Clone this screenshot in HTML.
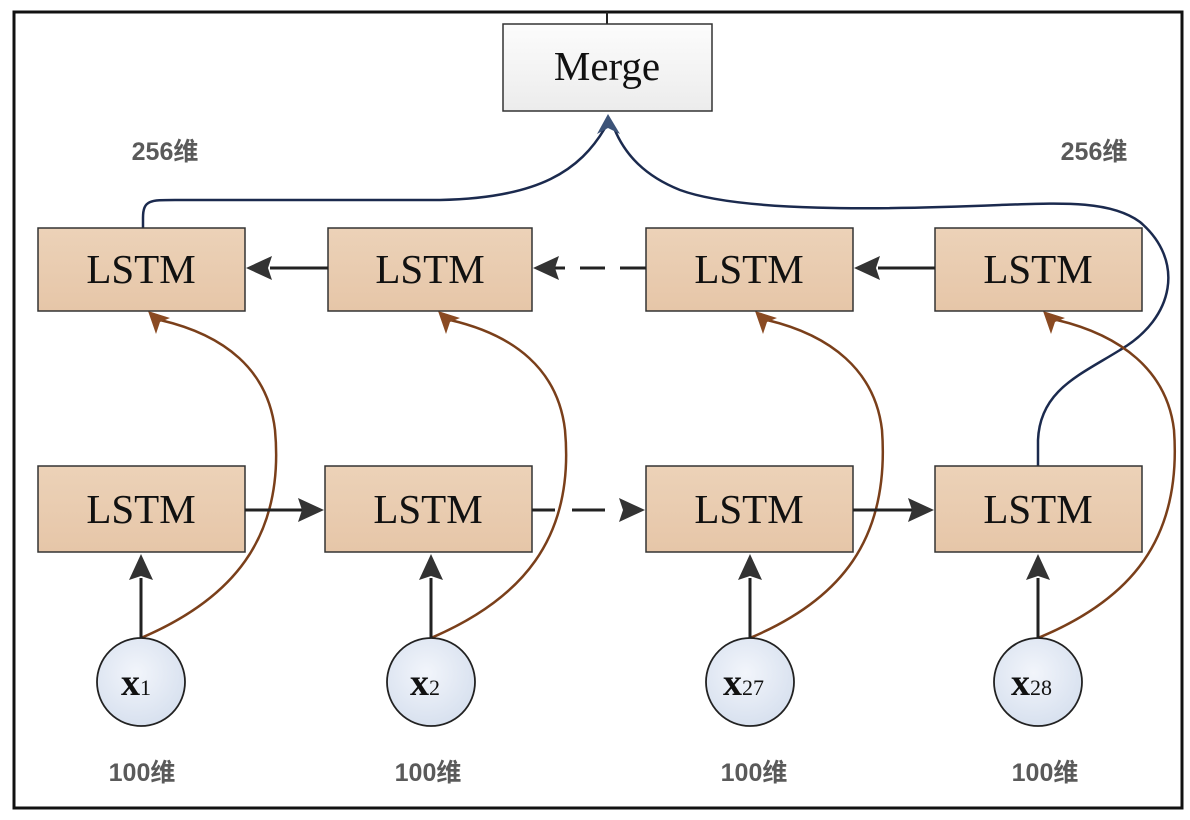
<!DOCTYPE html>
<html><head><meta charset="utf-8"><style>
html,body{margin:0;padding:0;background:#fff;}
svg{display:block;}
.lt{font-family:"Liberation Serif",serif;font-size:41px;fill:#111;}
.lb{font-family:"Liberation Sans","Noto Sans CJK SC",sans-serif;font-size:25px;font-weight:bold;fill:#5a5a5a;}
</style></head><body>
<svg width="1190" height="820" viewBox="0 0 1190 820" xmlns="http://www.w3.org/2000/svg">
<defs>
<linearGradient id="bx" x1="0" y1="0" x2="0" y2="1"><stop offset="0" stop-color="#ecd2b8"/><stop offset="1" stop-color="#e6c6a8"/></linearGradient>
<linearGradient id="mg" x1="0" y1="0" x2="0" y2="1"><stop offset="0" stop-color="#fcfcfc"/><stop offset="1" stop-color="#ececec"/></linearGradient>
<radialGradient id="cg" cx="0.45" cy="0.4" r="0.6"><stop offset="0" stop-color="#f2f5fb"/><stop offset="1" stop-color="#d8e1ef"/></radialGradient>
</defs>
<rect x="14" y="12" width="1168" height="796" fill="none" stroke="#111" stroke-width="3"/>
<line x1="607" y1="12" x2="607" y2="24" stroke="#222" stroke-width="2"/>
<rect x="503" y="24" width="209" height="87" fill="url(#mg)" stroke="#333" stroke-width="1.5"/>
<text class="lt" x="607" y="80" text-anchor="middle">Merge</text>

<path d="M143,228 L143,218 C143,200 150,200 175,200 L440,200 C540,198 580,170 605,128" fill="none" stroke="#1b2a4e" stroke-width="2.5"/>
<path d="M1038,466 L1038,440 C1040,390 1080,375 1120,350 C1175,318 1185,260 1140,222 C1110,200 1060,203 1000,205 C880,210 740,212 680,190 C645,176 625,155 614,128" fill="none" stroke="#1b2a4e" stroke-width="2.5"/>
<path d="M608,114 L597,134 L608,128 L620,134 Z" fill="#3c5378"/>

<g fill="none" stroke="#7a3f1a" stroke-width="2.5">
<path d="M141,638 C230,600 285,540 275,430 C268,370 225,335 160,320"/>
<path d="M431,638 C520,600 575,540 565,430 C558,370 515,335 450,320"/>
<path d="M750,638 C840,600 890,540 882,430 C875,370 830,335 767,320"/>
<path d="M1038,638 C1130,600 1182,540 1174,430 C1167,370 1120,335 1057,320"/>
</g>
<g fill="#8a4a22">
<path d="M148,311 L170,318 L160,322 L156,334 Z"/>
<path d="M438,311 L460,318 L450,322 L446,334 Z"/>
<path d="M755,311 L777,318 L767,322 L763,334 Z"/>
<path d="M1043,311 L1065,318 L1055,322 L1051,334 Z"/>
</g>

<g stroke="#333" stroke-width="1.5" fill="url(#bx)">
<rect x="38" y="228" width="207" height="83"/>
<rect x="328" y="228" width="204" height="83"/>
<rect x="646" y="228" width="207" height="83"/>
<rect x="935" y="228" width="207" height="83"/>
<rect x="38" y="466" width="207" height="86"/>
<rect x="325" y="466" width="207" height="86"/>
<rect x="646" y="466" width="207" height="86"/>
<rect x="935" y="466" width="207" height="86"/>
</g>
<g class="lt" text-anchor="middle">
<text x="141" y="283">LSTM</text><text x="430" y="283">LSTM</text><text x="749" y="283">LSTM</text><text x="1038" y="283">LSTM</text>
<text x="141" y="523">LSTM</text><text x="428" y="523">LSTM</text><text x="749" y="523">LSTM</text><text x="1038" y="523">LSTM</text>
</g>

<g stroke="#222" stroke-width="3" fill="none">
<line x1="328" y1="268" x2="270" y2="268"/>
<line x1="646" y1="268" x2="620" y2="268"/><line x1="605" y1="268" x2="580" y2="268"/><line x1="565" y1="268" x2="555" y2="268"/>
<line x1="935" y1="268" x2="878" y2="268"/>
<line x1="245" y1="510" x2="302" y2="510"/>
<line x1="532" y1="510" x2="555" y2="510"/><line x1="572" y1="510" x2="605" y2="510"/>
<line x1="853" y1="510" x2="912" y2="510"/>
<line x1="141" y1="638" x2="141" y2="578"/><line x1="431" y1="638" x2="431" y2="578"/>
<line x1="750" y1="638" x2="750" y2="578"/><line x1="1038" y1="638" x2="1038" y2="578"/>
</g>
<g fill="#333">
<path d="M246,268 L272,256 L268,268 L272,280 Z"/>
<path d="M533,268 L559,256 L555,268 L559,280 Z"/>
<path d="M854,268 L880,256 L876,268 L880,280 Z"/>
<path d="M324,510 L298,498 L302,510 L298,522 Z"/>
<path d="M645,510 L619,498 L623,510 L619,522 Z"/>
<path d="M934,510 L908,498 L912,510 L908,522 Z"/>
<path d="M141,554 L129,580 L141,576 L153,580 Z"/>
<path d="M431,554 L419,580 L431,576 L443,580 Z"/>
<path d="M750,554 L738,580 L750,576 L762,580 Z"/>
<path d="M1038,554 L1026,580 L1038,576 L1050,580 Z"/>
</g>

<g fill="url(#cg)" stroke="#222" stroke-width="1.8">
<circle cx="141" cy="682" r="44"/><circle cx="431" cy="682" r="44"/>
<circle cx="750" cy="682" r="44"/><circle cx="1038" cy="682" r="44"/>
</g>
<g font-family="Liberation Serif,serif" fill="#111">
<text x="121" y="695" font-size="38" font-weight="bold">x<tspan font-size="22" font-weight="normal">1</tspan></text>
<text x="410" y="695" font-size="38" font-weight="bold">x<tspan font-size="22" font-weight="normal">2</tspan></text>
<text x="723" y="695" font-size="38" font-weight="bold">x<tspan font-size="22" font-weight="normal">27</tspan></text>
<text x="1011" y="695" font-size="38" font-weight="bold">x<tspan font-size="22" font-weight="normal">28</tspan></text>
</g>

<g class="lb" text-anchor="middle">
<text x="165" y="160">256维</text>
<text x="1094" y="160">256维</text>
<text x="142" y="781">100维</text>
<text x="428" y="781">100维</text>
<text x="754" y="781">100维</text>
<text x="1045" y="781">100维</text>
</g>
</svg>
</body></html>
